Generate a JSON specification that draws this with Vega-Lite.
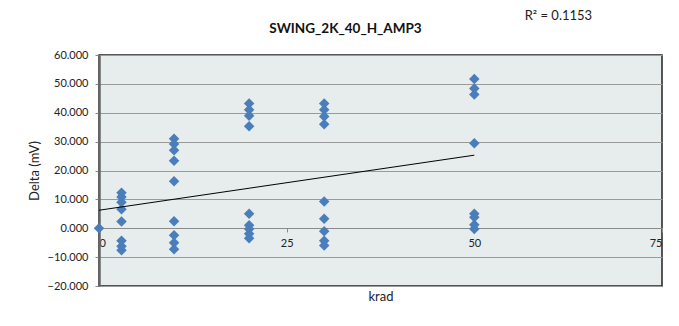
{
  "$schema": "https://vega.github.io/schema/vega-lite/v6.json",
  "autosize": {"type": "none"},
  "padding": {"left": 99, "top": 55, "right": 17, "bottom": 40},
  "width": 563,
  "height": 231,
  "background": "white",
  "title": {
    "text": "SWING_2K_40_H_AMP3",
    "font": "Lato",
    "fontSize": 13.5,
    "fontWeight": "bold",
    "color": "#111",
    "dx": -35,
    "offset": -25
  },
  "config": {
    "view": {"fill": "#E7ECEC", "stroke": "#222", "strokeWidth": 1.5},
    "font": "Lato"
  },
  "data": {
    "values": [
      {"krad": 0, "delta": 0},
      {"krad": 3, "delta": 12.3},
      {"krad": 3, "delta": 10.8},
      {"krad": 3, "delta": 9.0},
      {"krad": 3, "delta": 6.6},
      {"krad": 3, "delta": 2.3},
      {"krad": 3, "delta": -4.3},
      {"krad": 3, "delta": -6.2},
      {"krad": 3, "delta": -7.6},
      {"krad": 10, "delta": 31.0},
      {"krad": 10, "delta": 29.2},
      {"krad": 10, "delta": 27.0},
      {"krad": 10, "delta": 23.4},
      {"krad": 10, "delta": 16.3},
      {"krad": 10, "delta": 2.4},
      {"krad": 10, "delta": -2.4},
      {"krad": 10, "delta": -5.0},
      {"krad": 10, "delta": -7.3},
      {"krad": 20, "delta": 43.2},
      {"krad": 20, "delta": 41.0},
      {"krad": 20, "delta": 39.0},
      {"krad": 20, "delta": 35.3},
      {"krad": 20, "delta": 5.0},
      {"krad": 20, "delta": 1.0},
      {"krad": 20, "delta": -0.3},
      {"krad": 20, "delta": -1.9},
      {"krad": 20, "delta": -3.5},
      {"krad": 30, "delta": 43.2},
      {"krad": 30, "delta": 41.0},
      {"krad": 30, "delta": 38.7},
      {"krad": 30, "delta": 36.0},
      {"krad": 30, "delta": 9.3},
      {"krad": 30, "delta": 3.3},
      {"krad": 30, "delta": -1.0},
      {"krad": 30, "delta": -4.3},
      {"krad": 30, "delta": -6.0},
      {"krad": 50, "delta": 51.7},
      {"krad": 50, "delta": 48.4},
      {"krad": 50, "delta": 46.3},
      {"krad": 50, "delta": 29.4},
      {"krad": 50, "delta": 5.0},
      {"krad": 50, "delta": 3.8},
      {"krad": 50, "delta": 1.2},
      {"krad": 50, "delta": -0.3}
    ]
  },
  "layer": [
    {
      "mark": {"type": "point", "shape": "diamond", "filled": true, "size": 110, "color": "#4A7EBB", "opacity": 1},
      "encoding": {
        "x": {
          "field": "krad", "type": "quantitative",
          "scale": {"domain": [0, 75], "nice": false, "zero": false},
          "axis": {
            "values": [0, 25, 50, 75],
            "offset": -58,
            "grid": false,
            "domainColor": "#8a8a8a",
            "domainWidth": 1,
            "tickColor": "#8a8a8a",
            "tickSize": 4,
            "labelPadding": 5,
            "labelFontSize": 11,
            "labelColor": "#222",
            "labelFont": "Lato",
            "title": "krad",
            "titleFont": "Lato",
            "titleFontSize": 13,
            "titleFontWeight": "normal",
            "titleColor": "#222",
            "titlePadding": 42
          }
        },
        "y": {
          "field": "delta", "type": "quantitative",
          "scale": {"domain": [-20, 60], "nice": false, "zero": false},
          "axis": {
            "values": [-20, -10, 0, 10, 20, 30, 40, 50, 60],
            "tickCount": 9,
            "labelOverlap": false,
            "format": ".3f",
            "grid": true,
            "gridColor": "#9a9a9a",
            "gridWidth": 1,
            "domainColor": "#666",
            "domainWidth": 2.5,
            "tickColor": "#8a8a8a",
            "tickSize": 4,
            "labelPadding": 7,
            "labelFontSize": 11,
            "labelColor": "#222",
            "labelFont": "Lato",
            "title": "Delta (mV)",
            "titleFont": "Lato",
            "titleFontSize": 13,
            "titleFontWeight": "normal",
            "titleColor": "#222",
            "titlePadding": 6
          }
        }
      }
    },
    {
      "transform": [{"regression": "delta", "on": "krad", "extent": [0, 50]}],
      "mark": {"type": "line", "color": "#000", "strokeWidth": 1},
      "encoding": {
        "x": {"field": "krad", "type": "quantitative"},
        "y": {"field": "delta", "type": "quantitative"}
      }
    },
    {
      "data": {"values": [{"label": "R² = 0.1153"}]},
      "mark": {"type": "text", "font": "Lato", "fontSize": 13, "fontWeight": "normal", "color": "#222", "align": "center", "baseline": "middle"},
      "encoding": {
        "x": {"datum": 61.2},
        "y": {"datum": 73.5},
        "text": {"field": "label"}
      }
    }
  ]
}
